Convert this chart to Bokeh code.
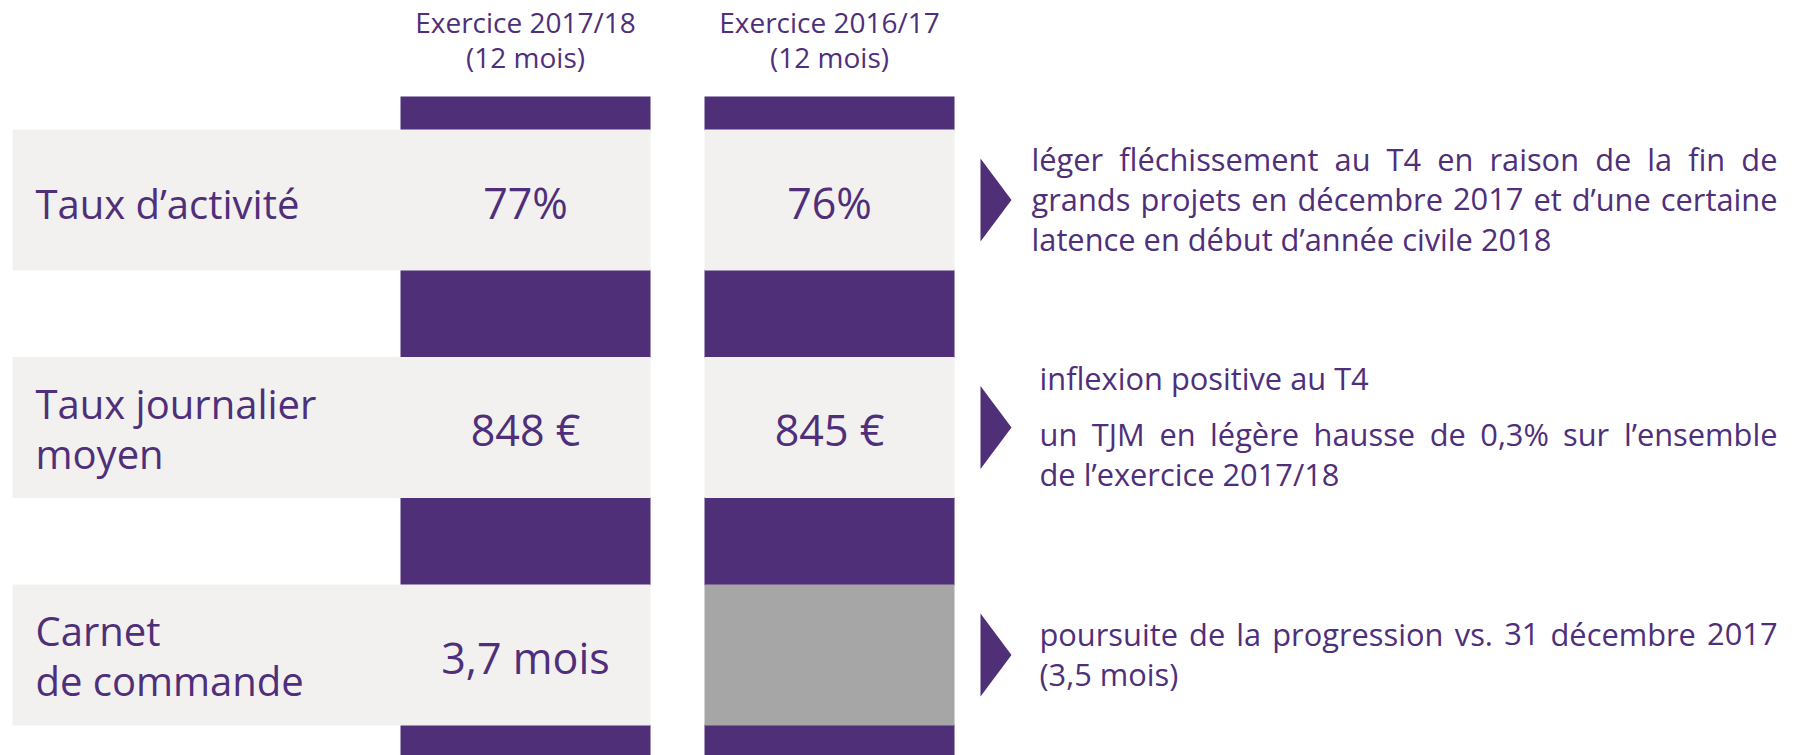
from bokeh.plotting import figure
from bokeh.models import ColumnDataSource, Range1d
from bokeh.core.properties import value
from bokeh.embed import file_html
from bokeh.resources import INLINE

# ---------------- data ----------------
period_titles = ["Exercice 2017/18", "Exercice 2016/17"]
period_subtitles = ["(12 mois)", "(12 mois)"]
indicator_labels = [["Taux d’activité"], ["Taux journalier", "moyen"], ["Carnet", "de commande"]]
values_2017_18 = ["77%", "848 €", "3,7 mois"]
values_2016_17 = ["76%", "845 €", None]
comments = [
    [["léger fléchissement au T4 en raison de la fin de",
      "grands projets en décembre 2017 et d’une certaine",
      "latence en début d’année civile 2018"]],
    [["inflexion positive au T4"],
     ["un TJM en légère hausse de 0,3% sur l’ensemble",
      "de l’exercice 2017/18"]],
    [["poursuite de la progression vs. 31 décembre 2017",
      "(3,5 mois)"]],
]

# ---------------- style / layout ----------------
PURPLE = "#4f2f78"
TEXT = "#4f2f7a"
LIGHT = "#f2f1f0"
MISSING = "#a6a6a6"
FONT = value("Open Sans")

W, H = 1800, 755
p = figure(width=W, height=H, x_range=Range1d(0, W), y_range=Range1d(H, 0),
           output_backend="svg", toolbar_location=None, min_border=0,
           x_axis_location=None, y_axis_location=None)
p.grid.visible = False
p.outline_line_color = None
p.background_fill_color = "white"
p.border_fill_color = "white"

col_left = [400, 704]
col_w = 250
col_right = [c + col_w for c in col_left]
col_centers = [c + col_w / 2 for c in col_left]
col_top, col_bottom = 96, 760
row_top0, row_step, row_h = 129, 227.5, 141
label_left = 12
n_rows = len(indicator_labels)
row_tops = [row_top0 + i * row_step for i in range(n_rows)]
row_bottoms = [t + row_h for t in row_tops]
row_centers = [t + row_h / 2 for t in row_tops]

# purple column segments (in the gaps between the rows, 1px overlap)
gap_tops = [col_top] + [b - 1 for b in row_bottoms]
gap_bottoms = [t + 1 for t in row_tops] + [col_bottom]
ql, qr, qt, qb = [], [], [], []
for c in range(2):
    for t, b in zip(gap_tops, gap_bottoms):
        ql.append(col_left[c]); qr.append(col_right[c]); qt.append(t); qb.append(b)
p.quad(left=ql, right=qr, top=qt, bottom=qb, fill_color=PURPLE, line_color=None)

# light band: label area + first column
p.quad(left=[label_left] * n_rows, right=[col_right[0]] * n_rows,
       top=row_tops, bottom=row_bottoms, fill_color=LIGHT, line_color=None)
# second column cells (dark grey when no value)
p.quad(left=[col_left[1]] * n_rows, right=[col_right[1]] * n_rows,
       top=row_tops, bottom=row_bottoms,
       fill_color=[LIGHT if v else MISSING for v in values_2016_17], line_color=None)

# headers
p.text(x=col_centers, y=[21.5, 21.5], text=period_titles, text_font=FONT,
       text_font_size=value("28px"), text_color=TEXT, text_align="center",
       text_baseline="alphabetic")
p.text(x=col_centers, y=[56.5, 56.5], text=period_subtitles, text_font=FONT,
       text_font_size=value("28px"), text_color=TEXT, text_align="center",
       text_baseline="alphabetic")

# row labels
lx, ly, lt = [], [], []
for i, lines in enumerate(indicator_labels):
    offs = [3.5] if len(lines) == 1 else [-24.5, 25.5]
    for off, line in zip(offs, lines):
        lx.append(35)
        ly.append(row_centers[i] + off)
        lt.append(line)
p.text(x=lx, y=ly, text=lt, text_font=FONT, text_font_size=value("40px"),
       text_color=TEXT, text_align="left", text_baseline="alphabetic")

# values
vx, vy, vt = [], [], []
for ci, vals in enumerate([values_2017_18, values_2016_17]):
    for i, v in enumerate(vals):
        if v:
            vx.append(col_centers[ci])
            vy.append(row_centers[i] + 2)
            vt.append(v)
p.text(x=vx, y=vy, text=vt, text_font=FONT, text_font_size=value("43px"),
       text_color=TEXT, text_align="center", text_baseline="alphabetic")

# arrows
arrow_left, arrow_w, arrow_h = 980, 31, 83
xs, ys = [], []
for c in row_centers:
    xs.append([arrow_left, arrow_left + arrow_w, arrow_left])
    ys.append([c - arrow_h / 2, c, c + arrow_h / 2])
p.patches(xs=xs, ys=ys, fill_color=PURPLE, line_color=None)

# comments (justified paragraphs)
ADV = {  # approximate Open Sans advance widths (em)
    "a": .556, "b": .613, "c": .476, "d": .613, "e": .561, "é": .561, "è": .561,
    "f": .339, "g": .548, "h": .614, "i": .253, "j": .253, "k": .525, "l": .253,
    "m": .930, "n": .614, "o": .604, "p": .613, "q": .613, "r": .408, "s": .477,
    "t": .353, "u": .614, "v": .501, "w": .778, "x": .524, "y": .502, "z": .465,
    "T": .556, "J": .266, "M": .905, " ": .26, ",": .244, ".": .266, "%": .828,
    "(": .296, ")": .296, "/": .367, "’": .173,
}
for d in "0123456789":
    ADV[d] = .572
CSIZE = 30.8


def word_w(s):
    return sum(ADV.get(ch, .55) for ch in s) * CSIZE


comment_left = [1031, 1039, 1039]
comment_right = 1777
line_sp, para_gap, v_shift = 40, 16, -1.5
cx, cy, ct, ca = [], [], [], []
for i, paras in enumerate(comments):
    offs, lines, just, y = [], [], [], 0
    for pi, para in enumerate(paras):
        if pi > 0:
            y += para_gap
        for li, line in enumerate(para):
            offs.append(y)
            lines.append(line)
            just.append(li < len(para) - 1)
            y += line_sp
    span = offs[-1] - offs[0]
    for off, line, j in zip(offs, lines, just):
        yy = row_centers[i] + v_shift - span / 2 + off
        if not j:
            cx.append(comment_left[i]); cy.append(yy); ct.append(line); ca.append("left")
            continue
        words = line.split(" ")
        widths = [word_w(w) for w in words]
        gap = (comment_right - comment_left[i] - sum(widths)) / (len(words) - 1)
        x = comment_left[i]
        for k, (w, ww) in enumerate(zip(words, widths)):
            if k == len(words) - 1:
                cx.append(comment_right); ca.append("right")
            else:
                cx.append(x); ca.append("left")
            cy.append(yy); ct.append(w)
            x += ww + gap

src = ColumnDataSource(dict(x=cx, y=cy, text=ct, align=ca))
p.text(x="x", y="y", text="text", text_align="align", source=src, text_font=FONT,
       text_font_size=value(f"{CSIZE}px"), text_color=TEXT, text_baseline="alphabetic")

open("out.html", "w").write(file_html(p, INLINE))
